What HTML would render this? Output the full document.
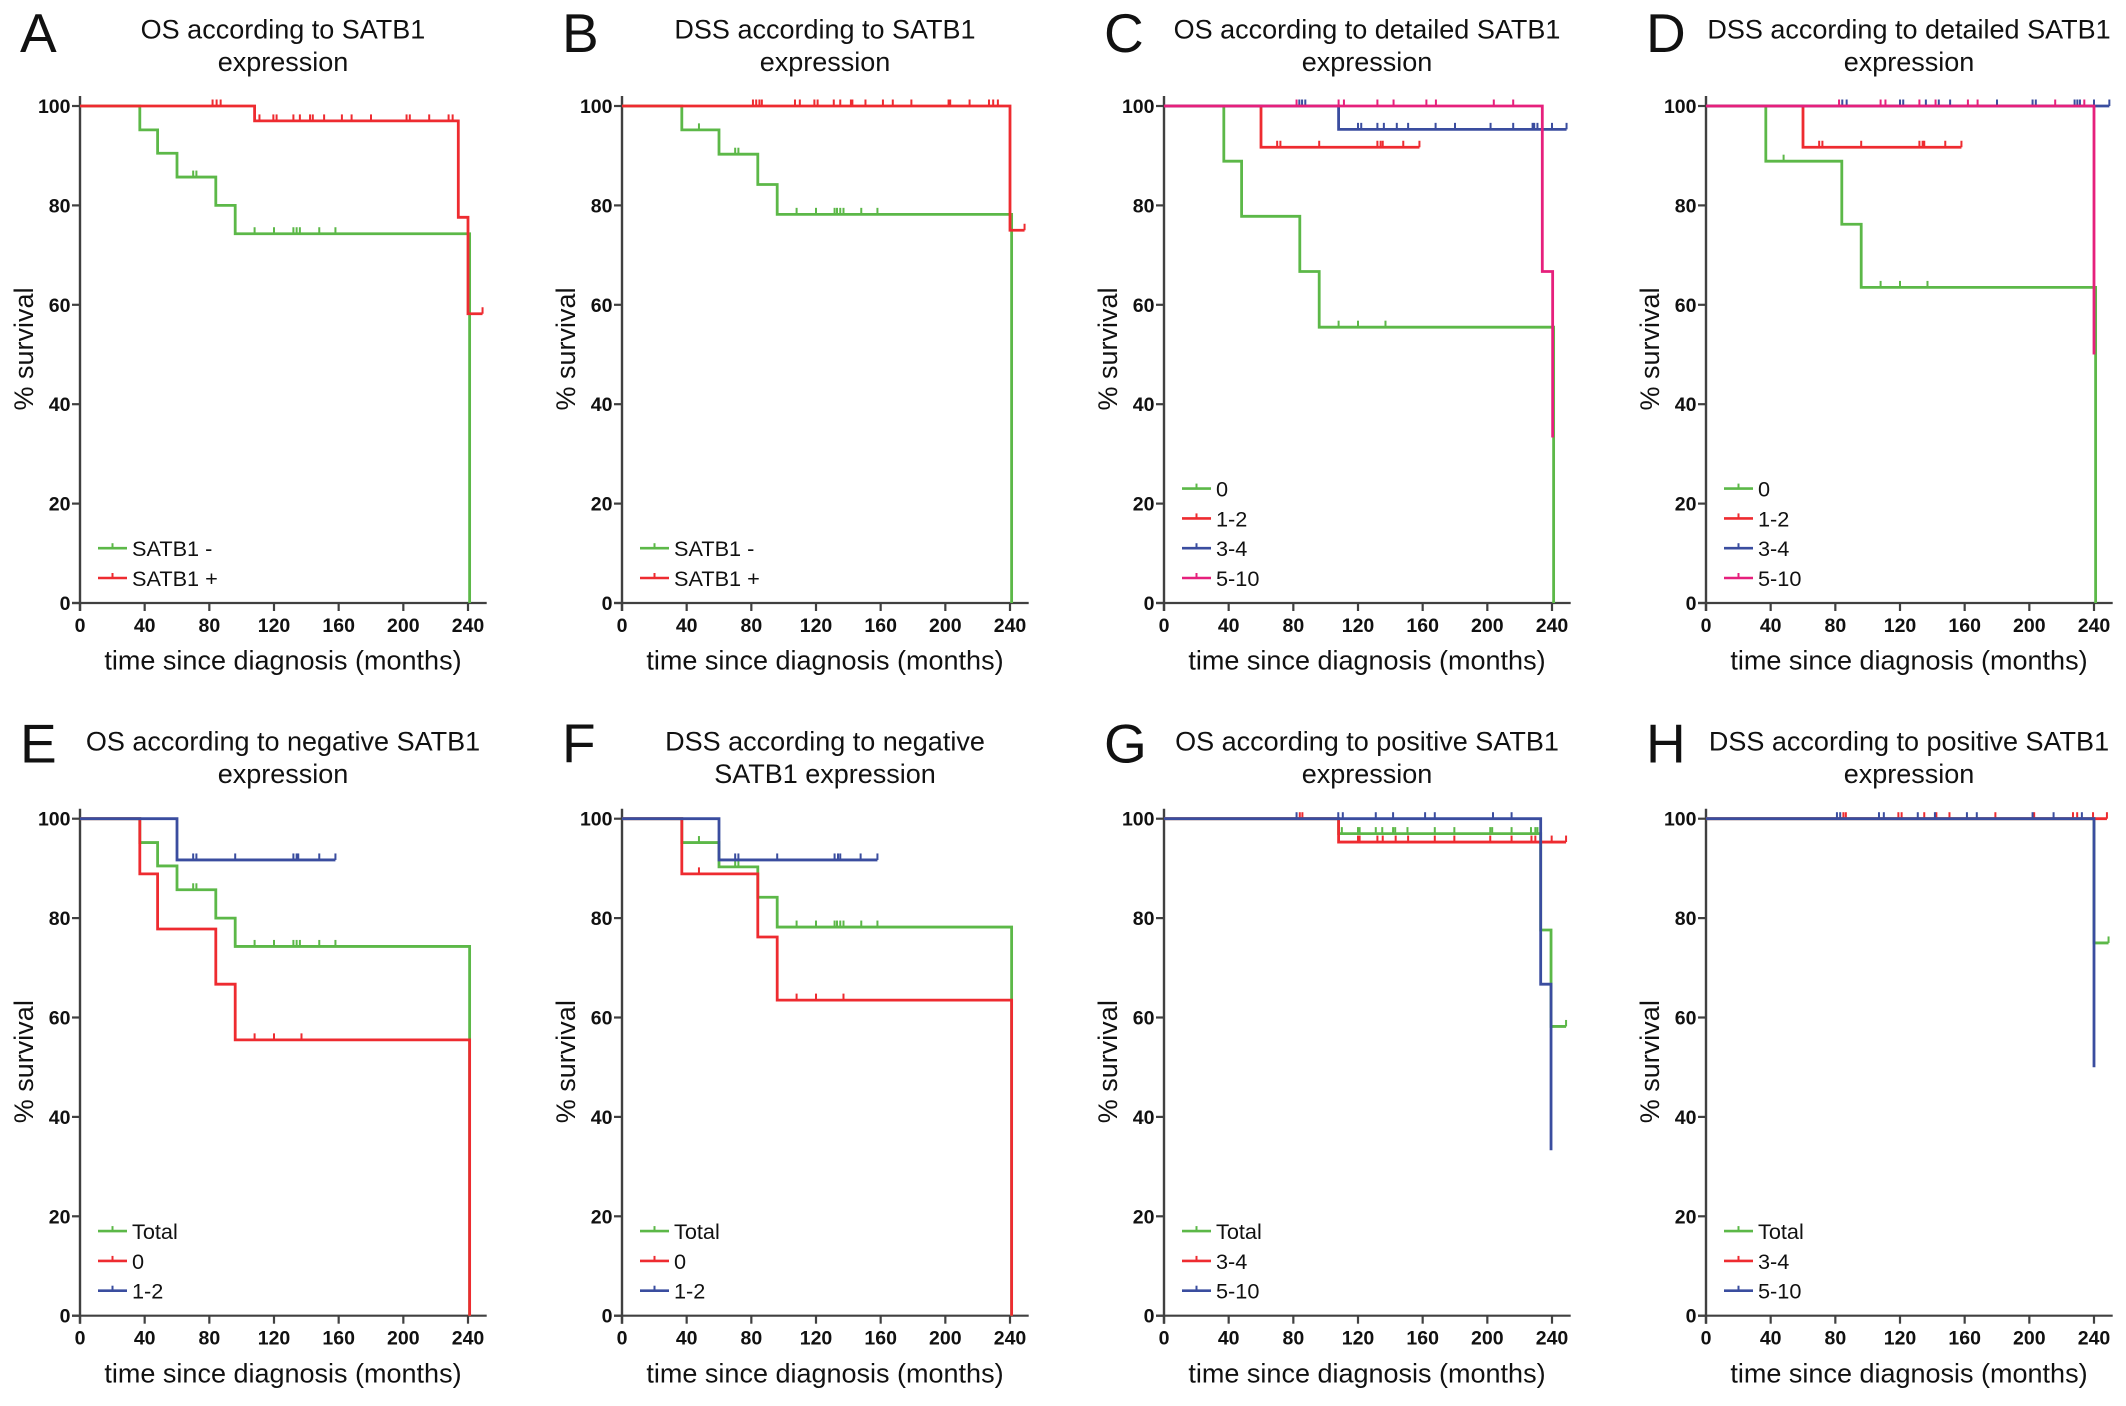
<!DOCTYPE html>
<html lang="en">
<head>
<meta charset="utf-8">
<title>SATB1 survival curves</title>
<style>
  html, body { margin: 0; padding: 0; background: #ffffff; }
  #figure { display: block; width: 2126px; height: 1406px; }
  text { font-family: "Liberation Sans", Arial, sans-serif; fill: #111111; }
</style>
</head>
<body>
<svg id="figure" xmlns="http://www.w3.org/2000/svg" width="2126" height="1406" viewBox="0 0 2126 1406"></svg>
<script>
// ---------- shared tick labels ----------
const xTickValues = [0, 40, 80, 120, 160, 200, 240];
const yTickValues = [0, 20, 40, 60, 80, 100];

// ---------- Panel A ----------
const aNegTimes = [0, 37, 48, 60, 84, 96, 241, 241];
const aNegSurvival = [100, 95.2, 90.5, 85.7, 80, 74.3, 74.3, 0];
const aNegCensored = [70, 72, 108, 120, 132, 134, 136, 148, 158];
const aPosTimes = [0, 108, 234, 240, 249];
const aPosSurvival = [100, 97, 77.6, 58.2, 58.2];
const aPosCensored = [82, 84.5, 87, 111, 119.6, 121.6, 132, 136, 142.3, 144, 151, 162, 168, 180, 202, 204, 216, 228, 230.5, 249];

// ---------- Panel B ----------
const bNegTimes = [0, 37, 60, 84, 96, 241, 241];
const bNegSurvival = [100, 95.2, 90.3, 84.2, 78.2, 78.2, 0];
const bNegCensored = [47.6, 70, 72, 108, 120, 131.5, 133, 135, 137, 148, 158];
const bPosTimes = [0, 240, 249];
const bPosSurvival = [100, 75, 75];
const bPosCensored = [81, 83, 85, 86.5, 107, 110, 119, 121, 131, 135, 141.6, 142.5, 150.6, 161.4, 167.5, 179, 202, 203, 215, 227, 229.6, 232.5, 249];

// ---------- Panel C ----------
const c0Times = [0, 37, 48, 84, 96, 241, 241];
const c0Survival = [100, 88.9, 77.8, 66.7, 55.5, 55.5, 0];
const c0Censored = [108, 120, 137];
const c12Times = [0, 60, 158];
const c12Survival = [100, 91.7, 91.7];
const c12Censored = [70, 72, 96, 132, 134, 135.3, 148, 158];
const c34Times = [0, 108, 249];
const c34Survival = [100, 95.3, 95.3];
const c34Censored = [83.7, 85.4, 87.4, 120, 122, 132, 136, 144, 151, 168, 180, 202, 216, 228, 229, 231, 240, 249];
const c510Times = [0, 234, 240.4, 240.4];
const c510Survival = [100, 66.7, 33.3, 33.3];
const c510Censored = [82, 108, 111.3, 132, 142, 162.3, 168.2, 204, 216];

// ---------- Panel D ----------
const d0Times = [0, 37, 84, 96, 241, 241];
const d0Survival = [100, 88.9, 76.2, 63.5, 63.5, 0];
const d0Censored = [48, 108, 120, 137];
const d12Times = [0, 60, 158];
const d12Survival = [100, 91.7, 91.7];
const d12Censored = [70, 72, 96, 132, 134, 135, 148, 158];
const d34Times = [0, 249.5];
const d34Survival = [100, 100];
const d34Censored = [84.3, 87, 120, 122, 136, 144, 151, 180, 202, 204, 228, 229.7, 231.3, 240, 249.5];
const d510Times = [0, 240, 240];
const d510Survival = [100, 50, 50];
const d510Censored = [82.3, 108, 111, 132, 142, 162, 168, 216, 234];

// ---------- Panel E ----------
const eTotalTimes = [0, 37, 48, 60, 84, 96, 241, 241];
const eTotalSurvival = [100, 95.2, 90.5, 85.7, 80, 74.3, 74.3, 0];
const eTotalCensored = [70, 72, 108, 120, 132, 134, 136, 148, 158];
const e0Times = [0, 37, 48, 84, 96, 241, 241];
const e0Survival = [100, 88.9, 77.8, 66.7, 55.5, 55.5, 0];
const e0Censored = [108, 120, 137];
const e12Times = [0, 60, 158];
const e12Survival = [100, 91.7, 91.7];
const e12Censored = [70, 72, 96, 132, 134, 135, 148, 158];

// ---------- Panel F ----------
const fTotalTimes = [0, 37, 60, 84, 96, 241, 241];
const fTotalSurvival = [100, 95.2, 90.3, 84.2, 78.2, 78.2, 0];
const fTotalCensored = [47.6, 70, 72, 108, 120, 131.5, 133, 135, 137, 148, 158];
const f0Times = [0, 37, 84, 96, 241, 241];
const f0Survival = [100, 88.9, 76.2, 63.5, 63.5, 0];
const f0Censored = [47.6, 108, 120, 137];
const f12Times = [0, 60, 158];
const f12Survival = [100, 91.7, 91.7];
const f12Censored = [70, 72, 96, 131.5, 133.6, 135, 147.6, 158];

// ---------- Panel G ----------
const gTotalTimes = [0, 108, 233, 239.4, 248.7];
const gTotalSurvival = [100, 97, 77.6, 58.2, 58.2];
const gTotalCensored = [110, 120, 121, 131, 135, 141.7, 143, 150.6, 167.5, 179.6, 201.8, 203, 215, 227, 229.7, 231, 248.7];
const g34Times = [0, 108, 248.7];
const g34Survival = [100, 95.3, 95.3];
const g34Censored = [84, 85.6, 120, 121, 132, 135.3, 143.3, 151, 167.5, 179.6, 201.8, 215, 227.3, 229.7, 239.8, 248.7];
const g510Times = [0, 233, 239.4, 239.4];
const g510Survival = [100, 66.7, 33.3, 33.3];
const g510Censored = [82, 107.8, 110.6, 131, 141.7, 161.5, 167.5, 203.5, 215];

// ---------- Panel H ----------
const hTotalTimes = [0, 240, 249];
const hTotalSurvival = [100, 75, 75];
const hTotalCensored = [249];
const h34Times = [0, 248];
const h34Survival = [100, 100];
const h34Censored = [85, 86.5, 119, 121, 135, 142.5, 150.6, 179, 203, 227, 229.6, 239.4, 248];
const h510Times = [0, 240, 240];
const h510Survival = [100, 50, 50];
const h510Censored = [81, 83, 107, 110, 131, 141.6, 161.4, 167.5, 202, 215, 232.5];

const GREEN = '#5cb848';
const RED = '#ee2b30';
const BLUE = '#3a4d9f';
const PINK = '#e6207c';

const panels = [
  { letter: 'A', title: ['OS according to SATB1', 'expression'], series: [
    { label: 'SATB1 -', color: GREEN, times: aNegTimes, survival: aNegSurvival, censored: aNegCensored },
    { label: 'SATB1 +', color: RED, times: aPosTimes, survival: aPosSurvival, censored: aPosCensored } ] },
  { letter: 'B', title: ['DSS according to SATB1', 'expression'], series: [
    { label: 'SATB1 -', color: GREEN, times: bNegTimes, survival: bNegSurvival, censored: bNegCensored },
    { label: 'SATB1 +', color: RED, times: bPosTimes, survival: bPosSurvival, censored: bPosCensored } ] },
  { letter: 'C', title: ['OS according to detailed SATB1', 'expression'], series: [
    { label: '0', color: GREEN, times: c0Times, survival: c0Survival, censored: c0Censored },
    { label: '1-2', color: RED, times: c12Times, survival: c12Survival, censored: c12Censored },
    { label: '3-4', color: BLUE, times: c34Times, survival: c34Survival, censored: c34Censored },
    { label: '5-10', color: PINK, times: c510Times, survival: c510Survival, censored: c510Censored } ] },
  { letter: 'D', title: ['DSS according to detailed SATB1', 'expression'], series: [
    { label: '0', color: GREEN, times: d0Times, survival: d0Survival, censored: d0Censored },
    { label: '1-2', color: RED, times: d12Times, survival: d12Survival, censored: d12Censored },
    { label: '3-4', color: BLUE, times: d34Times, survival: d34Survival, censored: d34Censored },
    { label: '5-10', color: PINK, times: d510Times, survival: d510Survival, censored: d510Censored } ] },
  { letter: 'E', title: ['OS according to negative SATB1', 'expression'], series: [
    { label: 'Total', color: GREEN, times: eTotalTimes, survival: eTotalSurvival, censored: eTotalCensored },
    { label: '0', color: RED, times: e0Times, survival: e0Survival, censored: e0Censored },
    { label: '1-2', color: BLUE, times: e12Times, survival: e12Survival, censored: e12Censored } ] },
  { letter: 'F', title: ['DSS according to negative', 'SATB1 expression'], series: [
    { label: 'Total', color: GREEN, times: fTotalTimes, survival: fTotalSurvival, censored: fTotalCensored },
    { label: '0', color: RED, times: f0Times, survival: f0Survival, censored: f0Censored },
    { label: '1-2', color: BLUE, times: f12Times, survival: f12Survival, censored: f12Censored } ] },
  { letter: 'G', title: ['OS according to positive SATB1', 'expression'], series: [
    { label: 'Total', color: GREEN, times: gTotalTimes, survival: gTotalSurvival, censored: gTotalCensored },
    { label: '3-4', color: RED, times: g34Times, survival: g34Survival, censored: g34Censored },
    { label: '5-10', color: BLUE, times: g510Times, survival: g510Survival, censored: g510Censored } ] },
  { letter: 'H', title: ['DSS according to positive SATB1', 'expression'], series: [
    { label: 'Total', color: GREEN, times: hTotalTimes, survival: hTotalSurvival, censored: hTotalCensored },
    { label: '3-4', color: RED, times: h34Times, survival: h34Survival, censored: h34Censored },
    { label: '5-10', color: BLUE, times: h510Times, survival: h510Survival, censored: h510Censored } ] }
];

const svg = document.getElementById('figure');
const NS = 'http://www.w3.org/2000/svg';
const AXIS = '#404040';

function make(parent, tag, attrs, content) {
  const el = document.createElementNS(NS, tag);
  for (const k in attrs) el.setAttribute(k, attrs[k]);
  if (content !== undefined) el.textContent = content;
  parent.appendChild(el);
  return el;
}

function survivalAt(s, t) {
  let v = s.survival[0];
  for (let i = 0; i < s.times.length; i++) {
    if (s.times[i] <= t) { v = s.survival[i]; if (s.times[i] === t) break; }
  }
  return v;
}

panels.forEach(function (p, idx) {
  const col = idx % 4;
  const row = Math.floor(idx / 4);
  const x0 = 80 + col * 542;
  const dy = row * 712.7;
  const xScale = function (t) { return x0 + t * 388 / 240; };
  const yScale = function (v) { return 106 + dy + (100 - v) * 4.97; };

  const g = make(svg, 'g', {});
  
  

  const letter = make(g, 'text', { x: x0 - 60, y: 52 + dy - row * 2, 'font-size': 55 }, p.letter);
  
  

  p.title.forEach(function (line, i) {
    const t = make(g, 'text', { x: x0 + 203, y: 38.7 + dy - row + i * 32.5, 'font-size': 27, 'text-anchor': 'middle' }, line);
    
    
  });

  // axes
  const yAxis = make(g, 'line', { x1: x0, x2: x0, y1: yScale(100) - 10, y2: yScale(0) + 8, stroke: AXIS, 'stroke-width': 2.4 });
  
  
  const xAxis = make(g, 'line', { x1: x0 - 8, x2: x0 + 406.7, y1: yScale(0), y2: yScale(0), stroke: AXIS, 'stroke-width': 2.2 });
  
  

  yTickValues.forEach(function (v) {
    const tick = make(g, 'line', { x1: x0 - 8, x2: x0, y1: yScale(v), y2: yScale(v), stroke: AXIS, 'stroke-width': 2.2 });
    
    
    const lab = make(g, 'text', { x: x0 - 9.5, y: yScale(v) + 7, 'font-size': 19.5, 'font-weight': 'bold', 'text-anchor': 'end' }, String(v));
    
    
  });
  xTickValues.forEach(function (v) {
    const tick = make(g, 'line', { x1: xScale(v), x2: xScale(v), y1: yScale(0), y2: yScale(0) + 8, stroke: AXIS, 'stroke-width': 2.2 });
    
    
    const lab = make(g, 'text', { x: xScale(v), y: yScale(0) + 29, 'font-size': 19.5, 'font-weight': 'bold', 'text-anchor': 'middle' }, String(v));
    
    
  });

  const yTitle = make(g, 'text', { transform: 'translate(' + (x0 - 47) + ' ' + (349 + dy) + ') rotate(-90)', 'font-size': 27, 'text-anchor': 'middle' }, '% survival');
  
  
  const xTitle = make(g, 'text', { x: x0 + 203, y: yScale(0) + 66.7, 'font-size': 27, 'text-anchor': 'middle' }, 'time since diagnosis (months)');
  
  

  // series
  p.series.forEach(function (s) {
    let d = 'M' + xScale(s.times[0]) + ' ' + yScale(s.survival[0]);
    for (let i = 1; i < s.times.length; i++) {
      d += 'H' + xScale(s.times[i]) + 'V' + yScale(s.survival[i]);
    }
    const curve = make(g, 'path', { d: d, fill: 'none', stroke: s.color, 'stroke-width': 2.8, 'stroke-linejoin': 'miter' });
    
    
    s.censored.forEach(function (t) {
      const y = yScale(survivalAt(s, t));
      const mark = make(g, 'line', { x1: xScale(t), x2: xScale(t), y1: y, y2: y - 6.5, stroke: s.color, 'stroke-width': 2 });
      
      
    });
  });

  // legend
  const n = p.series.length;
  p.series.forEach(function (s, i) {
    const y = yScale(0) - 25 - (n - 1 - i) * 29.8;
    const key = make(g, 'line', { x1: x0 + 18, x2: x0 + 47, y1: y, y2: y, stroke: s.color, 'stroke-width': 2.6 });
    
    
    const keyTick = make(g, 'line', { x1: x0 + 32.5, x2: x0 + 32.5, y1: y, y2: y - 5, stroke: s.color, 'stroke-width': 2 });
    
    
    const lab = make(g, 'text', { x: x0 + 52, y: y + 8, 'font-size': 21.7 }, s.label);
    
    
  });
});
</script>
</body>
</html>
